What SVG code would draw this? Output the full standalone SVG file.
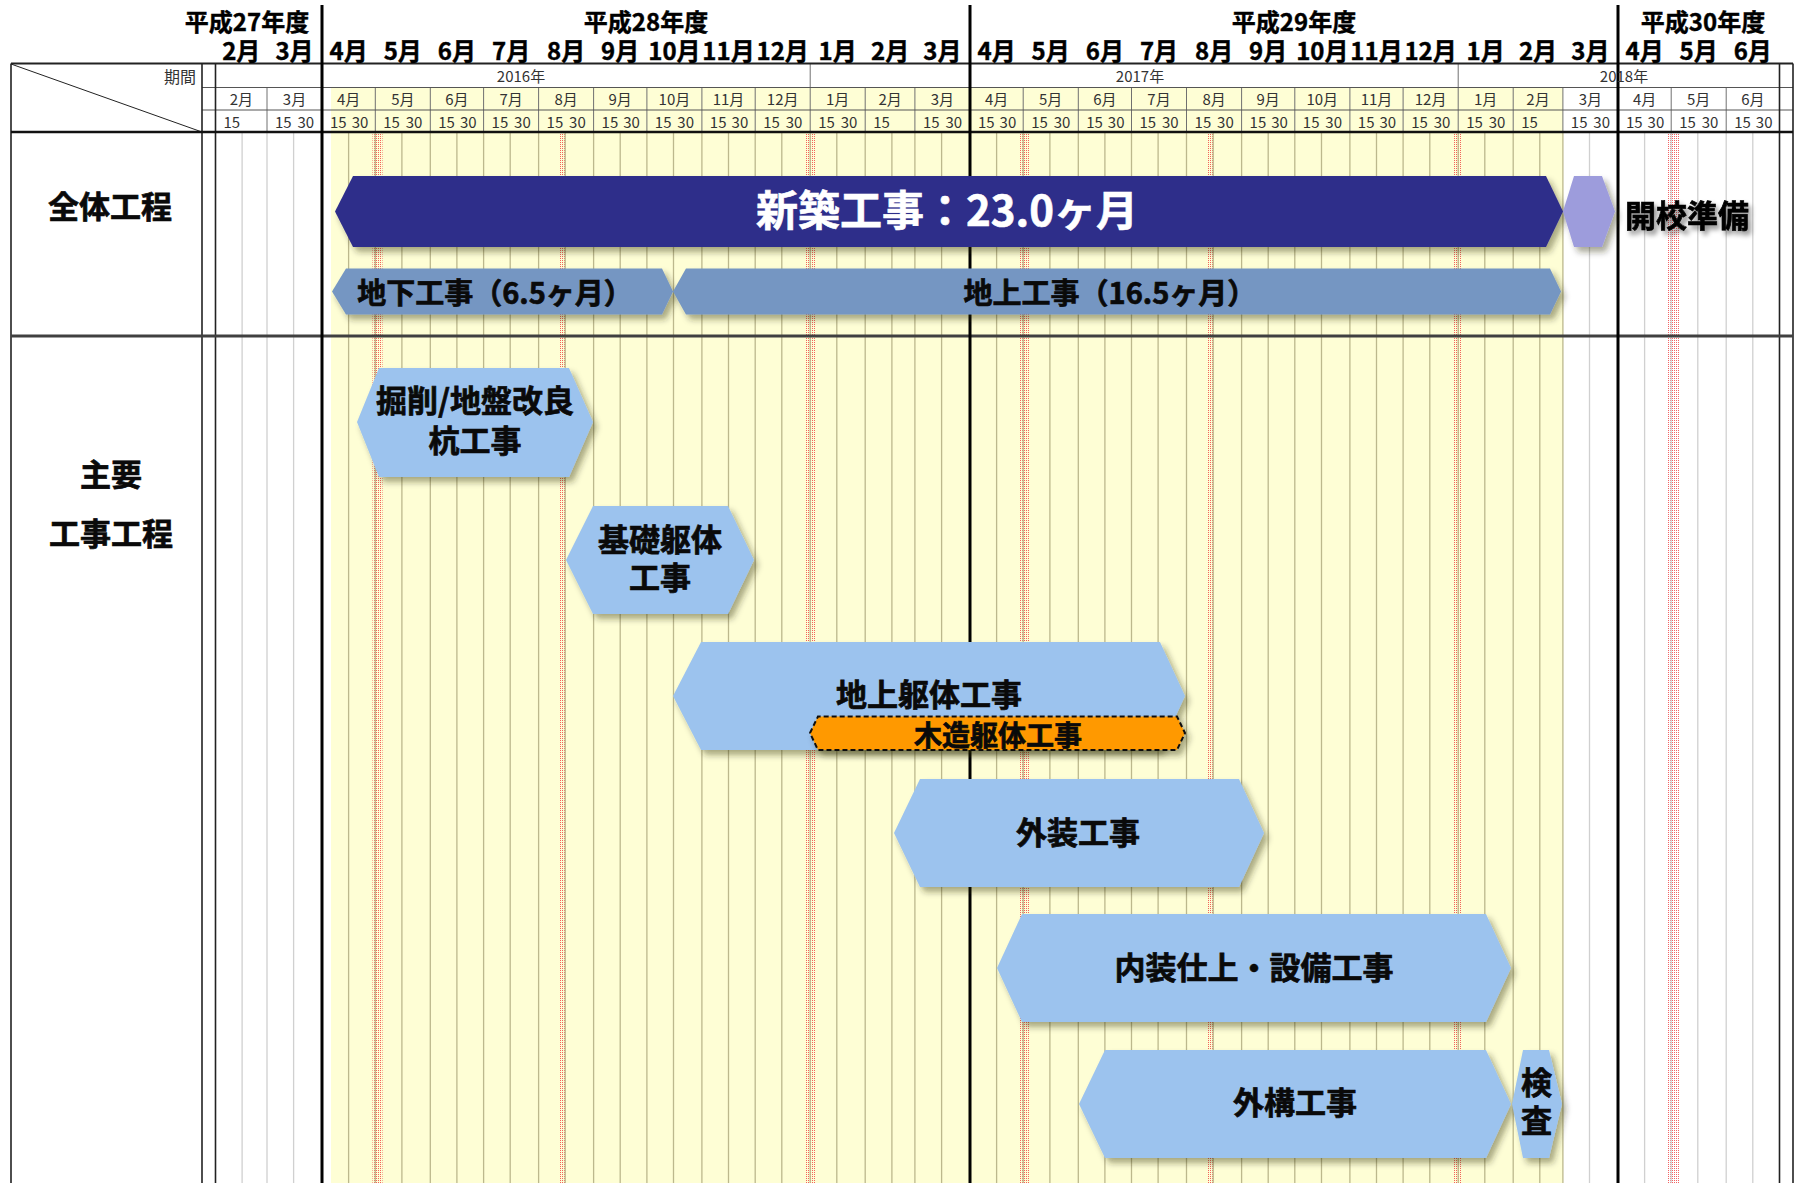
<svg xmlns="http://www.w3.org/2000/svg" width="1799" height="1183" viewBox="0 0 1799 1183">
<defs>
<pattern id="dots" width="2" height="2" patternUnits="userSpaceOnUse"><rect width="1" height="1" fill="#f03c3c"/></pattern>
<filter id="sh" x="-30%" y="-30%" width="160%" height="170%"><feDropShadow dx="4" dy="5" stdDeviation="3" flood-color="#2a2a00" flood-opacity="0.4"/></filter>
<filter id="tsh" x="-20%" y="-40%" width="140%" height="190%"><feDropShadow dx="3" dy="4" stdDeviation="2.5" flood-color="#000" flood-opacity="0.45"/></filter>
</defs>
<style>
.t{font-family:"Noto Sans CJK JP","Noto Sans",sans-serif;dominant-baseline:central;text-anchor:middle}
.big{font-size:24px;font-weight:bold;fill:#000;stroke:#000;stroke-width:0.4}
.sm{font-size:15px;fill:#333}
.lbl{font-size:31px;font-weight:bold;fill:#0a0a0a;stroke:#0a0a0a;stroke-width:0.7}
.olive{stroke:#bcb88d;stroke-width:1.3;fill:none}
.gray{stroke:#d0d0d0;stroke-width:1.3;fill:none}
.hl{stroke:#707070;stroke-width:1;fill:none}
.band{fill:url(#dots);opacity:0.8}
.bar{filter:url(#sh)}
.lb{fill:#9cc3ee}
</style>

<g id="background">
<rect x="331" y="88" width="1232" height="1095" fill="#fefed5"/>
<rect class="band" x="372.5" y="133" width="10" height="1050"/>
<rect class="band" x="560" y="133" width="6" height="1050"/>
<rect class="band" x="805" y="133" width="10" height="1050"/>
<rect class="band" x="1020" y="133" width="10" height="1050"/>
<rect class="band" x="1207" y="133" width="7" height="1050"/>
<rect class="band" x="1453" y="133" width="8" height="1050"/>
<rect class="band" x="1667" y="133" width="12" height="1050"/>
<path class="olive" d="M348.6 132V1183M375.3 132V1183M401.9 132V1183M430.3 132V1183M456.9 132V1183M483.6 132V1183M510.2 132V1183M538.6 132V1183M565.2 132V1183M593.6 132V1183M620.2 132V1183M646.9 132V1183M673.5 132V1183M701.9 132V1183M728.5 132V1183M755.2 132V1183M781.8 132V1183M810.2 132V1183M836.8 132V1183M865.2 132V1183M891.9 132V1183M914.9 132V1183M941.6 132V1183M996.6 132V1183M1023.2 132V1183M1049.9 132V1183M1078.3 132V1183M1104.9 132V1183M1131.5 132V1183M1158.1 132V1183M1186.5 132V1183M1213.2 132V1183M1241.6 132V1183M1268.2 132V1183M1294.8 132V1183M1321.5 132V1183M1349.9 132V1183M1376.5 132V1183M1403.1 132V1183M1429.8 132V1183M1458.2 132V1183M1484.8 132V1183M1513.2 132V1183M1539.8 132V1183M1562.9 132V1183"/>
<path class="gray" d="M242.1 132V1183M267 132V1183M293.6 132V1183M1589.5 132V1183M1644.6 132V1183M1671.2 132V1183M1697.8 132V1183M1726.2 132V1183M1752.8 132V1183"/>
</g>

<g id="table">
<path class="hl" d="M267 87.5V132M375.3 87.5V132M430.3 87.5V132M483.6 87.5V132M538.6 87.5V132M593.6 87.5V132M646.9 87.5V132M701.9 87.5V132M755.2 87.5V132M810.2 63.5V132M865.2 87.5V132M914.9 87.5V132M1023.2 87.5V132M1078.3 87.5V132M1131.5 87.5V132M1186.5 87.5V132M1241.6 87.5V132M1294.8 87.5V132M1349.9 87.5V132M1403.1 87.5V132M1458.2 63.5V132M1513.2 87.5V132M1562.9 87.5V132M1671.2 87.5V132M1726.2 87.5V132"/>
<path d="M202 87.5H1793M202 110H1793" stroke="#555" stroke-width="1" fill="none"/>
<path d="M11 63.5H1793" stroke="#222" stroke-width="1.8" fill="none"/>
<path d="M11 64L202 132" stroke="#222" stroke-width="1" fill="none"/>
<path d="M11 63.5V1183M202 63.5V1183M215.5 63.5V1183M1779.5 63.5V1183M1793 63.5V1183" stroke="#222" stroke-width="1.6" fill="none"/>
<path d="M11 132H1793" stroke="#111" stroke-width="2.5" fill="none"/>
<path d="M11 336H1793" stroke="#404040" stroke-width="3" fill="none"/>
<path d="M322 5V1183M970 5V1183M1618 5V1183" stroke="#000" stroke-width="3" fill="none"/>

<g class="t sm">
<text x="196" y="76" style="text-anchor:end;font-size:16px">期間</text>
<text x="521" y="75.5">2016年</text>
<text x="1140" y="75.5">2017年</text>
<text x="1624" y="75.5">2018年</text>
</g>
<g class="t sm">
<text x="241.3" y="98.5">2月</text><text x="294.5" y="98.5">3月</text><text x="348.7" y="98.5">4月</text><text x="402.8" y="98.5">5月</text><text x="456.9" y="98.5">6月</text><text x="511.1" y="98.5">7月</text><text x="566.1" y="98.5">8月</text><text x="620.2" y="98.5">9月</text><text x="674.4" y="98.5">10月</text><text x="728.5" y="98.5">11月</text><text x="782.7" y="98.5">12月</text><text x="837.7" y="98.5">1月</text><text x="890.1" y="98.5">2月</text><text x="942.4" y="98.5">3月</text><text x="996.6" y="98.5">4月</text><text x="1050.7" y="98.5">5月</text><text x="1104.9" y="98.5">6月</text><text x="1159" y="98.5">7月</text><text x="1214.1" y="98.5">8月</text><text x="1268.2" y="98.5">9月</text><text x="1322.3" y="98.5">10月</text><text x="1376.5" y="98.5">11月</text><text x="1430.6" y="98.5">12月</text><text x="1485.7" y="98.5">1月</text><text x="1538" y="98.5">2月</text><text x="1590.4" y="98.5">3月</text><text x="1644.6" y="98.5">4月</text><text x="1698.7" y="98.5">5月</text><text x="1752.8" y="98.5">6月</text>
</g>
<g class="t sm">
<text x="231.8" y="121">15</text>
<text x="283.3" y="121">15</text><text x="305.8" y="121">30</text>
<text x="338.3" y="121">15</text><text x="360" y="121">30</text>
<text x="391.6" y="121">15</text><text x="414.1" y="121">30</text>
<text x="446.6" y="121">15</text><text x="468.3" y="121">30</text>
<text x="499.9" y="121">15</text><text x="522.4" y="121">30</text>
<text x="554.9" y="121">15</text><text x="577.4" y="121">30</text>
<text x="609.9" y="121">15</text><text x="631.6" y="121">30</text>
<text x="663.2" y="121">15</text><text x="685.7" y="121">30</text>
<text x="718.2" y="121">15</text><text x="739.9" y="121">30</text>
<text x="771.5" y="121">15</text><text x="794" y="121">30</text>
<text x="826.5" y="121">15</text><text x="849" y="121">30</text>
<text x="881.6" y="121">15</text>
<text x="931.3" y="121">15</text><text x="953.8" y="121">30</text>
<text x="986.3" y="121">15</text><text x="1007.9" y="121">30</text>
<text x="1039.6" y="121">15</text><text x="1062.1" y="121">30</text>
<text x="1094.6" y="121">15</text><text x="1116.2" y="121">30</text>
<text x="1147.8" y="121">15</text><text x="1170.3" y="121">30</text>
<text x="1202.9" y="121">15</text><text x="1225.4" y="121">30</text>
<text x="1257.9" y="121">15</text><text x="1279.5" y="121">30</text>
<text x="1311.2" y="121">15</text><text x="1333.7" y="121">30</text>
<text x="1366.2" y="121">15</text><text x="1387.8" y="121">30</text>
<text x="1419.5" y="121">15</text><text x="1442" y="121">30</text>
<text x="1474.5" y="121">15</text><text x="1497" y="121">30</text>
<text x="1529.5" y="121">15</text>
<text x="1579.2" y="121">15</text><text x="1601.7" y="121">30</text>
<text x="1634.3" y="121">15</text><text x="1655.9" y="121">30</text>
<text x="1687.5" y="121">15</text><text x="1710" y="121">30</text>
<text x="1742.5" y="121">15</text><text x="1764.2" y="121">30</text>
</g>
</g>

<g id="header-labels" class="t big">
<text x="247" y="20">平成27年度</text>
<text x="646" y="20">平成28年度</text>
<text x="1294" y="20">平成29年度</text>
<text x="1703" y="20">平成30年度</text>
<text x="241.3" y="49.5">2月</text><text x="294.5" y="49.5">3月</text><text x="348.7" y="49.5">4月</text><text x="402.8" y="49.5">5月</text><text x="456.9" y="49.5">6月</text><text x="511.1" y="49.5">7月</text><text x="566.1" y="49.5">8月</text><text x="620.2" y="49.5">9月</text><text x="674.4" y="49.5">10月</text><text x="728.5" y="49.5">11月</text><text x="782.7" y="49.5">12月</text><text x="837.7" y="49.5">1月</text><text x="890.1" y="49.5">2月</text><text x="942.4" y="49.5">3月</text><text x="996.6" y="49.5">4月</text><text x="1050.7" y="49.5">5月</text><text x="1104.9" y="49.5">6月</text><text x="1159" y="49.5">7月</text><text x="1214.1" y="49.5">8月</text><text x="1268.2" y="49.5">9月</text><text x="1322.3" y="49.5">10月</text><text x="1376.5" y="49.5">11月</text><text x="1430.6" y="49.5">12月</text><text x="1485.7" y="49.5">1月</text><text x="1538" y="49.5">2月</text><text x="1590.4" y="49.5">3月</text><text x="1644.6" y="49.5">4月</text><text x="1698.7" y="49.5">5月</text><text x="1752.8" y="49.5">6月</text>
</g>

<g id="row-labels" class="t lbl">
<text x="110" y="204">全体工程</text>
<text x="111" y="472">主要</text>
<text x="111" y="531">工事工程</text>
</g>

<g id="connectors"></g>

<g id="node-shinchiku">
<polygon class="bar" points="335,211.5 353,176 1546,176 1563,211.5 1546,247 353,247" fill="#2e2d8a"/>
<text class="t" x="947" y="207" style="font-size:42px;font-weight:bold;fill:#fff;stroke:#fff;stroke-width:0.6">新築工事：23.0ヶ月</text>
</g>
<g id="node-kaikou">
<polygon class="bar" points="1563,211.5 1574,176 1602,176 1615,211.5 1602,247 1574,247" fill="#9d9cdc"/>
<text class="t" x="1625" y="213" style="text-anchor:start;font-size:31px;font-weight:bold;fill:#000;stroke:#000;stroke-width:0.7;filter:url(#tsh)">開校準備</text>
</g>
<g id="node-chika">
<polygon class="bar" points="332,291.5 346,268.5 662,268.5 673,291.5 662,314.5 346,314.5" fill="#7596c2"/>
<text class="t lbl" x="495" y="291" style="font-size:29px">地下工事（6.5ヶ月）</text>
</g>
<g id="node-chijo">
<polygon class="bar" points="673,291.5 686,268.5 1550,268.5 1561,291.5 1550,314.5 686,314.5" fill="#7596c2"/>
<text class="t lbl" x="1110" y="291" style="font-size:29px">地上工事（16.5ヶ月）</text>
</g>
<g id="node-kussaku">
<polygon class="bar lb" points="357,422 379,368 569,368 593,422 569,477 379,477"/>
<text class="t lbl" x="475" y="398">掘削/地盤改良</text>
<text class="t lbl" x="475" y="438">杭工事</text>
</g>
<g id="node-kiso">
<polygon class="bar lb" points="566,560 593,506 728,506 754,560 728,614 593,614"/>
<text class="t lbl" x="660" y="537">基礎躯体</text>
<text class="t lbl" x="660" y="575">工事</text>
</g>
<g id="node-chijokutai">
<polygon class="bar lb" points="673,696 701,642 1160,642 1185,696 1160,750 701,750"/>
<text class="t lbl" x="929" y="692">地上躯体工事</text>
</g>
<g id="node-mokuzo">
<polygon class="bar" points="810,733 818,716.5 1177,716.5 1185,733 1177,750 818,750" fill="#ff9900" stroke="#111" stroke-width="2" stroke-dasharray="5,3"/>
<text class="t lbl" x="998" y="734" style="font-size:28px">木造躯体工事</text>
</g>
<g id="node-gaisou">
<polygon class="bar lb" points="894,833 920,779 1239,779 1264,833 1239,887 920,887"/>
<text class="t lbl" x="1078" y="830">外装工事</text>
</g>
<g id="node-naisou">
<polygon class="bar lb" points="997,968 1022,914 1486,914 1511,968 1486,1022 1022,1022"/>
<text class="t lbl" x="1254" y="965">内装仕上・設備工事</text>
</g>
<g id="node-gaikou">
<polygon class="bar lb" points="1079,1104 1105,1050 1486,1050 1511,1104 1486,1158 1105,1158"/>
<text class="t lbl" x="1295" y="1100">外構工事</text>
</g>
<g id="node-kensa">
<polygon class="bar lb" points="1512,1104 1523,1050 1549,1050 1562,1104 1549,1158 1523,1158"/>
<text class="t lbl" x="1536.5" y="1080">検</text>
<text class="t lbl" x="1536.5" y="1118">査</text>
</g>
</svg>
